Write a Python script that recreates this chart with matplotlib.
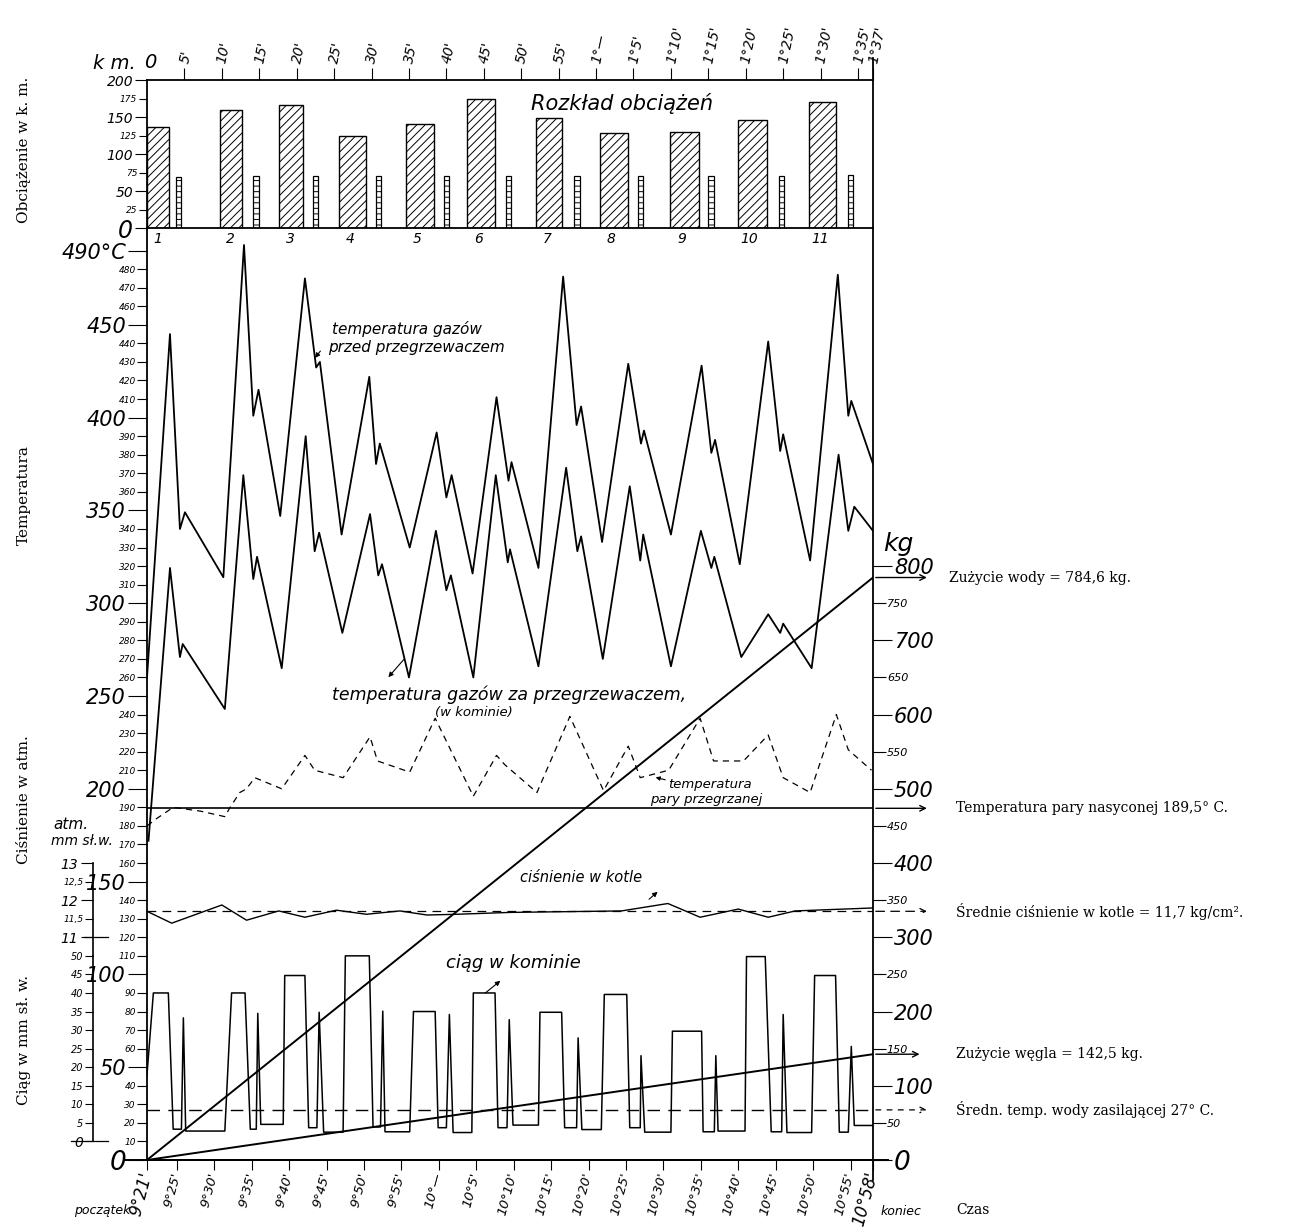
import matplotlib
matplotlib.use("Agg")
import matplotlib.pyplot as plt
from matplotlib.transforms import blended_transform_factory

# ---- dane: rozkład obciążeń (k.m.), czas w minutach od 9°21'
load_start = [0, 9.7, 17.6, 25.6, 34.6, 42.8, 52.0, 60.5, 69.9, 79.0, 88.5]
load_width = [3.0, 3.0, 3.2, 3.7, 3.7, 3.7, 3.4, 3.8, 3.9, 3.9, 3.5]
load_km = [136, 160, 166, 125, 141, 174, 149, 129, 130, 146, 171]
small_start = [3.9, 14.2, 22.2, 30.6, 39.7, 47.9, 57.1, 65.6, 75.0, 84.4, 93.6]
small_width = [0.7, 0.7, 0.7, 0.7, 0.7, 0.7, 0.7, 0.7, 0.7, 0.7, 0.7]
small_km = [69, 70, 70, 70, 70, 70, 70, 70, 70, 70, 72]
load_names = ["1", "2", "3", "4", "5", "6", "7", "8", "9", "10", "11"]

# temperatura gazów przed przegrzewaczem
t_before = [0, 3.07, 4.4, 5.07, 10.2, 12.96, 14.2, 14.9, 17.8, 21.1, 22.6, 23.1, 26.0,
            29.7, 30.6, 31.1, 35.1, 38.7, 40.0, 40.7, 43.5, 46.7, 48.3, 48.7, 52.3,
            55.6, 57.4, 58.0, 60.8, 64.3, 66.0, 66.4, 70.0, 74.1, 75.4, 75.9, 79.2,
            83.0, 84.6, 85.0, 88.6, 92.3, 93.7, 94.1, 97.0]
temp_before = [260, 445, 340, 349, 314, 493, 401, 415, 347, 475, 427, 430, 337,
               422, 375, 386, 330, 392, 357, 369, 316, 411, 366, 376, 319,
               476, 396, 406, 333, 429, 386, 393, 337, 428, 381, 388, 321,
               441, 382, 391, 323, 477, 401, 409, 375]

# temperatura gazów za przegrzewaczem (w kominie)
t_after = [0.2, 3.07, 4.4, 4.77, 10.4, 12.87, 14.2, 14.7, 18.0, 21.2, 22.4, 23.0, 26.1,
           29.8, 30.9, 31.4, 35.0, 38.6, 40.0, 40.6, 43.6, 46.6, 48.2, 48.5, 52.3,
           56.0, 57.5, 58.0, 60.9, 64.5, 65.9, 66.3, 70.0, 74.0, 75.4, 75.8, 79.4,
           83.0, 84.6, 85.0, 88.8, 92.4, 93.7, 94.5, 97.0]
temp_after = [172, 319, 271, 278, 243, 369, 313, 325, 265, 390, 328, 338, 284,
              348, 315, 321, 260, 339, 307, 315, 260, 369, 322, 329, 266,
              373, 328, 336, 270, 363, 323, 337, 266, 339, 319, 325, 271,
              294, 284, 289, 265, 380, 339, 352, 339]

# temperatura pary przegrzanej
t_steam = [0, 1.3, 3.5, 7.1, 10.4, 11.1, 12.4, 13.3, 14.4, 18.0, 21.1, 22.4, 26.2,
           29.8, 30.8, 35.1, 38.5, 43.6, 46.7, 47.8, 52.1, 56.5, 61.0, 64.3, 65.9,
           69.7, 73.9, 75.7, 79.7, 83.0, 85.0, 88.6, 92.1, 93.7, 96.8]
temp_steam = [180, 184, 190, 188, 185, 190, 198, 200, 206, 200, 218, 210, 206,
              228, 215, 209, 238, 196, 218, 213, 198, 239, 199, 223, 206,
              210, 238, 215, 215, 229, 206, 198, 240, 221, 210]
temp_saturated = 189.5
temp_feed = 27

# ciśnienie w kotle (atm)
t_press = [0, 3.3, 10.0, 13.3, 17.6, 21.1, 25.3, 29.3, 33.8, 37.4, 41.4, 48.5,
           63.4, 69.6, 73.9, 79.0, 83.0, 86.6, 97.0]
press = [11.70, 11.38, 11.87, 11.46, 11.71, 11.54, 11.73, 11.62, 11.71, 11.60, 11.62, 11.67,
         11.71, 11.91, 11.54, 11.76, 11.54, 11.71, 11.79]
press_mean = 11.7

# ciąg w kominie (mm sł. w.)
t_draft = [0, 0.85, 2.85, 3.5, 4.6, 4.86, 5.17,
           10.4, 11.3, 13.1, 13.8, 14.6, 14.8, 15.2,
           18.2, 18.4, 21.1, 21.6, 22.7, 23.0, 23.6,
           26.2, 26.5, 29.7, 30.2, 31.2, 31.5, 31.8,
           35.1, 35.6, 38.5, 38.9, 40.0, 40.4, 40.9,
           43.4, 43.6, 46.5, 46.9, 48.1, 48.4, 48.9,
           52.3, 52.5, 55.4, 55.8, 57.4, 57.6, 58.1,
           60.7, 61.1, 64.1, 64.5, 65.9, 66.0, 66.5,
           70.0, 70.2, 74.1, 74.3, 75.8, 76.0, 76.3,
           79.9, 80.1, 82.6, 83.4, 84.8, 85.0, 85.5,
           88.8, 89.2, 92.0, 92.5, 93.7, 94.1, 94.5, 97.0]
draft = [18, 40, 40, 3.3, 3.3, 33.3, 2.8,
         2.8, 40, 40, 3.3, 3.3, 34.5, 4.6,
         4.6, 44.7, 44.7, 3.7, 3.7, 34.8, 2.5,
         2.5, 50, 50, 3.9, 3.9, 35.1, 2.6,
         2.6, 35, 35, 3.7, 3.7, 34.2, 2.4,
         2.4, 40, 40, 3.7, 3.7, 32.8, 4.4,
         4.4, 34.8, 34.8, 3.7, 3.7, 27.9, 3.2,
         3.2, 39.6, 39.6, 3.7, 3.7, 23.1, 2.5,
         2.5, 29.7, 29.7, 2.6, 2.6, 23.1, 2.8,
         2.8, 49.8, 49.8, 2.6, 2.6, 34.2, 2.4,
         2.4, 44.7, 44.7, 2.5, 2.5, 25.6, 4.3, 4.3]

# zużycie wody i węgla (kg)
water_t = [0, 97]
water_kg = [0, 784.6]
coal_t = [0, 97]
coal_kg = [0, 142.5]

# podziałki czasu
top_ticks = [5, 10, 15, 20, 25, 30, 35, 40, 45, 50, 55, 60, 65, 70, 75, 80, 85, 90, 95, 97]
top_labels = ["5'", "10'", "15'", "20'", "25'", "30'", "35'", "40'", "45'", "50'", "55'",
              "1°—", "1°5'", "1°10'", "1°15'", "1°20'", "1°25'", "1°30'", "1°35'", "1°37'"]
bottom_ticks = [0, 4, 9, 14, 19, 24, 29, 34, 39, 44, 49, 54, 59, 64, 69, 74, 79, 84, 89, 94, 97]
bottom_labels = ["9°21'", "9°25'", "9°30'", "9°35'", "9°40'", "9°45'", "9°50'", "9°55'", "10°—",
                 "10°5'", "10°10'", "10°15'", "10°20'", "10°25'", "10°30'", "10°35'", "10°40'",
                 "10°45'", "10°50'", "10°55'", "10°58'"]

HAND = dict(family="DejaVu Sans", style="italic")
PRINT = dict(family="DejaVu Serif")
plt.rcParams["hatch.linewidth"] = 0.7

fig = plt.figure(figsize=(12.95, 12.27), dpi=100)


def fx(px):
    return px / 1295


def fy(py):
    return 1 - py / 1227


X0, X1 = 147, 873
Y_BASE, Y_TOP_T, Y_TOP_L = 1160, 228.3, 80
T_MAX = 502

ax = fig.add_axes([fx(X0), fy(Y_BASE), fx(X1) - fx(X0), fy(Y_TOP_T) - fy(Y_BASE)])
axl = fig.add_axes([fx(X0), fy(Y_TOP_T), fx(X1) - fx(X0), fy(Y_TOP_L) - fy(Y_TOP_T)])

# ---- panel obciążeń
axl.bar(load_start, load_km, width=load_width, align="edge", facecolor="white",
        edgecolor="black", hatch="////", linewidth=1.0)
axl.bar(small_start, small_km, width=small_width, align="edge", facecolor="white",
        edgecolor="black", hatch="---", linewidth=0.9)
axl.set_xlim(0, 97)
axl.set_ylim(0, 200)
axl.xaxis.tick_top()
axl.set_xticks(top_ticks, labels=top_labels)
axl.tick_params(axis="x", direction="out", length=9, width=0.8, pad=3)
for lbl in axl.get_xticklabels():
    lbl.set(rotation=78, ha="left", va="center", rotation_mode="anchor", fontsize=10, **HAND)
axl.set_yticks([0, 50, 100, 150, 200], labels=["0", "50", "100", "150", "200"])
axl.set_yticks([25, 75, 125, 175], labels=["25", "75", "125", "175"], minor=True)
axl.tick_params(axis="y", which="major", length=9, width=0.8, labelsize=10, pad=1)
axl.tick_params(axis="y", which="minor", length=6, width=0.8, labelsize=6.5, pad=1)
for lbl in axl.get_yticklabels(which="both"):
    lbl.set(**HAND)
axl.get_yticklabels()[0].set_fontsize(17)
for s in axl.spines.values():
    s.set_linewidth(1.3)
axl.text(51.3, 168, "Rozkład obciążeń", fontsize=15, ha="left", va="center", **HAND)
axl.text(-0.4, 1.12, "0", transform=axl.get_xaxis_transform(), fontsize=14, ha="left",
         va="center", **HAND)
axl.text(-0.045, 1.11, "k m.", transform=axl.transAxes, fontsize=14, ha="center", va="center", **HAND)
axl.plot([1, 1], [1, 1.15], transform=axl.transAxes, clip_on=False, color="k", lw=1.3)

# ---- panel temperatur
ax.plot(t_before, temp_before, color="k", lw=1.3)
ax.plot(t_after, temp_after, color="k", lw=1.3)
ax.plot(t_steam, temp_steam, color="k", lw=0.9, dashes=(5, 4))
ax.axhline(temp_saturated, color="k", lw=1.2)
ax.axhline(temp_feed, color="k", lw=1.0, dashes=(9, 6))
ax.set_xlim(0, 97)
ax.set_ylim(0, T_MAX)
for i, name in enumerate(load_names):
    ax.text(load_start[i] + 1.5, 496, name, fontsize=10, ha="center", va="center", **HAND)

major_t = [0, 50, 100, 150, 200, 250, 300, 350, 400, 450, 490]
major_t_lbl = ["0", "50", "100", "150", "200", "250", "300", "350", "400", "450", "490°C"]
minor_t = [v for v in range(10, 490, 10) if v % 50 != 0]
ax.set_yticks(major_t, labels=major_t_lbl)
ax.set_yticks(minor_t, labels=[str(v) for v in minor_t], minor=True)
ax.tick_params(axis="y", which="major", length=14, width=0.8, labelsize=15, pad=1)
ax.tick_params(axis="y", which="minor", length=7, width=0.8, labelsize=6.5, pad=1)
for lbl in ax.get_yticklabels(which="both"):
    lbl.set(**HAND)
ax.get_yticklabels()[0].set_fontsize(19)

ax.set_xticks(bottom_ticks, labels=bottom_labels)
ax.tick_params(axis="x", direction="out", length=7, width=0.8, pad=2)
for i, lbl in enumerate(ax.get_xticklabels()):
    big = i in (0, len(bottom_ticks) - 1)
    lbl.set(rotation=75, ha="right", va="center", rotation_mode="anchor",
            fontsize=12 if big else 9.5, **HAND)
ax.spines["top"].set_visible(False)
for s in ("left", "right", "bottom"):
    ax.spines[s].set_linewidth(1.3)
ax.plot([-0.03, 1.02], [0, 0], transform=ax.transAxes, clip_on=False, color="k", lw=1.4)
ax.plot([1, 1], [0, -0.022], transform=ax.transAxes, clip_on=False, color="k", lw=1.3)
ax.text(-6.0, -27, "początek", fontsize=9, ha="center", va="center", **HAND)
ax.text(100.8, -28, "koniec", fontsize=9, ha="center", va="center", **HAND)

# ---- napisy na wykresie
ax.text(24.7, 448, "temperatura gazów", fontsize=11, ha="left", va="center", **HAND)
ax.text(24.2, 438, "przed przegrzewaczem", fontsize=11, ha="left", va="center", **HAND)
ax.annotate("", xy=(22.2, 431), xytext=(23.4, 437),
            arrowprops=dict(arrowstyle="-|>", color="k", lw=0.8, mutation_scale=7))
ax.text(24.7, 250.5, "temperatura gazów za przegrzewaczem,", fontsize=12.5, ha="left",
        va="center", **HAND)
ax.text(38.5, 241, "(w kominie)", fontsize=9.5, ha="left", va="center", **HAND)
ax.annotate("", xy=(32.0, 259), xytext=(34.6, 271),
            arrowprops=dict(arrowstyle="-|>", color="k", lw=0.8, mutation_scale=7))
ax.text(69.6, 202.5, "temperatura", fontsize=9.5, ha="left", va="center", **HAND)
ax.text(67.2, 194.5, "pary przegrzanej", fontsize=9.5, ha="left", va="center", **HAND)
ax.annotate("", xy=(67.6, 206.5), xytext=(69.6, 204.5),
            arrowprops=dict(arrowstyle="-|>", color="k", lw=0.8, mutation_scale=6))
ax.text(49.8, 152, "ciśnienie w kotle", fontsize=10.5, ha="left", va="center", **HAND)
ax.annotate("", xy=(68.5, 145.5), xytext=(66.8, 139.5),
            arrowprops=dict(arrowstyle="-|>", color="k", lw=0.8, mutation_scale=7))
ax.text(40.0, 106, "ciąg w kominie", fontsize=13, ha="left", va="center", **HAND)
ax.annotate("", xy=(47.5, 97.5), xytext=(44.9, 89),
            arrowprops=dict(arrowstyle="-|>", color="k", lw=0.8, mutation_scale=7))

# ---- oś kg (prawa)
axk = ax.twinx()
axk.set_ylim(0, T_MAX * 2.5)
axk.plot(water_t, water_kg, color="k", lw=1.4)
axk.plot(coal_t, coal_kg, color="k", lw=1.4)
for s in axk.spines.values():
    s.set_visible(False)
axk.set_yticks([0, 100, 200, 300, 400, 500, 600, 700, 800],
               labels=["0", "100", "200", "300", "400", "500", "600", "700", "800"])
axk.set_yticks([50, 150, 250, 350, 450, 550, 650, 750],
               labels=["50", "150", "250", "350", "450", "550", "650", "750"], minor=True)
axk.tick_params(axis="y", which="major", length=14, width=0.8, labelsize=15, pad=1)
axk.tick_params(axis="y", which="minor", length=9, width=0.8, labelsize=8, pad=1)
for lbl in axk.get_yticklabels(which="both"):
    lbl.set(**HAND)
axk.get_yticklabels()[0].set_fontsize(19)
axk.text(1.035, 830, "kg", transform=axk.get_yaxis_transform(), fontsize=18, ha="center",
         va="center", **HAND)

# ---- oś ciśnienia i ciągu (lewa, dodatkowa)
spine_pos = (93 - X0) / (X1 - X0)
axp = ax.twinx()
axp.set_ylim(5, 5 + T_MAX / 20)
axp.plot(t_press, press, color="k", lw=1.0)
axp.axhline(press_mean, color="k", lw=0.9, dashes=(7, 5))
axd = ax.twinx()
axd.set_ylim(-5, (T_MAX - 10) / 2)
axd.plot(t_draft, draft, color="k", lw=1.1)
for a, bounds in ((axp, (10.5, 13)), (axd, (0, 50))):
    for s in a.spines.values():
        s.set_visible(False)
    a.yaxis.tick_left()
    a.spines["left"].set_visible(True)
    a.spines["left"].set_position(("axes", spine_pos))
    a.spines["left"].set_bounds(*bounds)
    a.spines["left"].set_linewidth(1.2)
axp.set_yticks([11, 12, 13], labels=["11", "12", "13"])
axp.set_yticks([11.5, 12.5], labels=["11,5", "12,5"], minor=True)
axp.tick_params(axis="y", which="major", length=9, width=0.8, labelsize=10, pad=2)
axp.tick_params(axis="y", which="minor", length=6, width=0.8, labelsize=6.5, pad=1)
d_ticks = [0, 5, 10, 15, 20, 25, 30, 35, 40, 45, 50]
axd.set_yticks(d_ticks, labels=[str(v) for v in d_ticks])
axd.tick_params(axis="y", length=6, width=0.8, labelsize=7, pad=1)
for a in (axp, axd):
    for lbl in a.get_yticklabels(which="both"):
        lbl.set(**HAND)
axd.get_yticklabels()[0].set_fontsize(10)
tp = blended_transform_factory(ax.transAxes, axp.transData)
axp.plot([spine_pos - 0.012, spine_pos + 0.02], [11, 11], transform=tp, clip_on=False, color="k", lw=0.9)
td = blended_transform_factory(ax.transAxes, axd.transData)
axd.plot([spine_pos - 0.03, spine_pos + 0.02], [0, 0], transform=td, clip_on=False, color="k", lw=0.9)
ax.text(-0.105, 181, "atm.", transform=ax.get_yaxis_transform(), fontsize=11, ha="center",
        va="center", **HAND)
ax.text(-0.09, 172, "mm sł.w.", transform=ax.get_yaxis_transform(), fontsize=10, ha="center",
        va="center", **HAND)

# ---- strzałki i opisy z prawej
AR = 1.078
TX = 1.115
axk.annotate("", xy=(AR, water_kg[-1]), xycoords=("axes fraction", "data"),
             xytext=(1.0, water_kg[-1]), textcoords=("axes fraction", "data"),
             arrowprops=dict(arrowstyle="->", color="k", lw=1.0))
axk.text(TX - 0.01, water_kg[-1], "Zużycie wody = 784,6 kg.", transform=axk.get_yaxis_transform(),
         fontsize=10, ha="left", va="center", **PRINT)
ax.annotate("", xy=(AR, temp_saturated), xycoords=("axes fraction", "data"),
            xytext=(1.0, temp_saturated), textcoords=("axes fraction", "data"),
            arrowprops=dict(arrowstyle="->", color="k", lw=1.0))
ax.text(TX, temp_saturated, "Temperatura pary nasyconej 189,5° C.", transform=ax.get_yaxis_transform(),
        fontsize=10, ha="left", va="center", **PRINT)
axp.annotate("", xy=(AR, press_mean), xycoords=("axes fraction", "data"),
             xytext=(1.0, press_mean), textcoords=("axes fraction", "data"),
             arrowprops=dict(arrowstyle="->", color="k", lw=0.9, linestyle=(0, (7, 5))))
axp.text(TX, press_mean, "Średnie ciśnienie w kotle = 11,7 kg/cm².", transform=axp.get_yaxis_transform(),
         fontsize=10, ha="left", va="center", **PRINT)
axk.annotate("", xy=(AR - 0.01, coal_kg[-1]), xycoords=("axes fraction", "data"),
             xytext=(1.0, coal_kg[-1]), textcoords=("axes fraction", "data"),
             arrowprops=dict(arrowstyle="->", color="k", lw=1.0))
axk.text(TX, coal_kg[-1], "Zużycie węgla = 142,5 kg.", transform=axk.get_yaxis_transform(),
         fontsize=10, ha="left", va="center", **PRINT)
ax.annotate("", xy=(AR, temp_feed), xycoords=("axes fraction", "data"),
            xytext=(1.0, temp_feed), textcoords=("axes fraction", "data"),
            arrowprops=dict(arrowstyle="->", color="k", lw=0.9, linestyle=(0, (4, 5))))
ax.text(TX, temp_feed, "Średn. temp. wody zasilającej 27° C.", transform=ax.get_yaxis_transform(),
        fontsize=10, ha="left", va="center", **PRINT)
ax.text(TX, -0.054, "Czas", transform=ax.transAxes, fontsize=10, ha="left", va="center", **PRINT)

# ---- tytuły osi
fig.text(fx(24), fy(150), "Obciążenie w k. m.", rotation=90, ha="center", va="center", fontsize=11, **PRINT)
fig.text(fx(24), fy(495), "Temperatura", rotation=90, ha="center", va="center", fontsize=11, **PRINT)
fig.text(fx(24), fy(800), "Ciśnienie w atm.", rotation=90, ha="center", va="center", fontsize=11, **PRINT)
fig.text(fx(24), fy(1040), "Ciąg w mm sł. w.", rotation=90, ha="center", va="center", fontsize=11, **PRINT)

fig.savefig("out.png", dpi=100, facecolor="white")
